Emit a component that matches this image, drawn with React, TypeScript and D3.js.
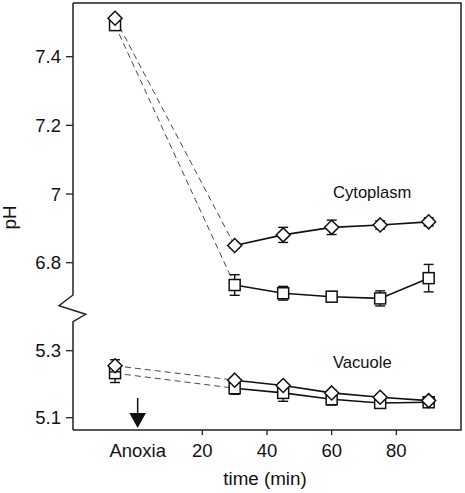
import React from "react";
import * as d3 from "d3";

// time (min); pre-anoxia control point plotted left of the anoxia arrow
const times = [-7, 30, 45, 60, 75, 90];
const cytoDiamond = [7.512, 6.85, 6.881, 6.903, 6.91, 6.919];
const cytoDiamondErr = [0.008, 0.008, 0.022, 0.021, 0.012, 0.012];
const cytoSquare = [7.492, 6.735, 6.711, 6.701, 6.696, 6.755];
const cytoSquareErr = [0.008, 0.03, 0.02, 0.015, 0.022, 0.04];
const vacDiamond = [5.255, 5.212, 5.196, 5.174, 5.161, 5.151];
const vacDiamondErr = [0.018, 0.008, 0.008, 0.008, 0.008, 0.008];
const vacSquare = [5.233, 5.188, 5.174, 5.155, 5.144, 5.146];
const vacSquareErr = [0.028, 0.018, 0.025, 0.017, 0.008, 0.008];
const xTicks = [20, 40, 60, 80];
const upperTicks = [6.8, 7, 7.2, 7.4];
const lowerTicks = [5.1, 5.3];
const anoxiaTime = 0;

const W = 465;
const H = 493;
const FONT = "'Liberation Sans', Arial, sans-serif";

export default function App() {
  const left = 73, right = 461, top = 3, bottom = 430;
  const x = d3.scaleLinear().domain([-20, 100]).range([left, right]);
  const yUp = d3.scaleLinear().domain([6.8, 7.4]).range([262.7, 56.7]);
  const yLow = d3.scaleLinear().domain([5.1, 5.3]).range([417.7, 350.7]);

  const series = [
    { vals: cytoSquare, err: cytoSquareErr, y: yUp, shape: "square" },
    { vals: vacSquare, err: vacSquareErr, y: yLow, shape: "square" },
    { vals: cytoDiamond, err: cytoDiamondErr, y: yUp, shape: "diamond" },
    { vals: vacDiamond, err: vacDiamondErr, y: yLow, shape: "diamond" },
  ];

  const lineGen = (ys: d3.ScaleLinear<number, number>) =>
    d3
      .line<[number, number]>()
      .x((d) => x(d[0]))
      .y((d) => ys(d[1]));

  const breakTop = 295;
  const leftAxisPath = `M${left},${top} L${left},${breakTop} L59,305.7 L85.7,314.3 L${left},321.7 L${left},${bottom}`;

  const ax = x(anoxiaTime);

  return (
    <div style={{ position: "fixed", left: 0, top: 0, width: W, height: H, background: "#fff" }}>
      <svg width={W} height={H} style={{ display: "block" }} fontFamily={FONT}>
        <rect width={W} height={H} fill="#fff" />
        {/* frame */}
        <path d={`M${left},${top} L${right},${top} L${right},${bottom} L${left},${bottom}`} fill="none" stroke="#222" strokeWidth={1.5} />
        <path d={leftAxisPath} fill="none" stroke="#222" strokeWidth={1.5} strokeLinejoin="miter" />

        {/* y ticks */}
        {upperTicks.map((t) => (
          <g key={"u" + t}>
            <line x1={left - 7} x2={left} y1={yUp(t)} y2={yUp(t)} stroke="#222" strokeWidth={1.3} />
            <text x={61} y={yUp(t)} dy="0.36em" textAnchor="end" fontSize={18.5} fill="#111">{String(t)}</text>
          </g>
        ))}
        {lowerTicks.map((t) => (
          <g key={"l" + t}>
            <line x1={left - 7} x2={left} y1={yLow(t)} y2={yLow(t)} stroke="#222" strokeWidth={1.3} />
            <text x={61} y={yLow(t)} dy="0.36em" textAnchor="end" fontSize={18.5} fill="#111">{String(t)}</text>
          </g>
        ))}

        {/* x ticks */}
        {xTicks.map((t) => (
          <g key={"x" + t}>
            <line x1={x(t)} x2={x(t)} y1={bottom} y2={bottom + 5} stroke="#222" strokeWidth={1.3} />
            <text x={x(t)} y={456.7} textAnchor="middle" fontSize={18.5} fill="#111">{String(t)}</text>
          </g>
        ))}
        <text x={ax} y={456.7} textAnchor="middle" fontSize={18.5} fill="#111">Anoxia</text>

        {/* arrow */}
        <line x1={ax} x2={ax} y1={398} y2={414} stroke="#111" strokeWidth={1.5} />
        <path d={`M${ax - 8.3},413 L${ax + 8.3},413 L${ax},428 Z`} fill="#111" />

        {/* axis titles */}
        <text x={(left + right) / 2 - 2} y={485} textAnchor="middle" fontSize={18.8} fill="#111">time (min)</text>
        <text transform="translate(16,217.5) rotate(-90)" textAnchor="middle" fontSize={18.8} fill="#111">pH</text>

        {/* annotations */}
        <text x={333} y={198} fontSize={16.6} fill="#111">Cytoplasm</text>
        <text x={333} y={367.5} fontSize={16.6} fill="#111">Vacuole</text>

        {/* dashed connectors */}
        {series.map((s, i) => (
          <path
            key={"d" + i}
            d={lineGen(s.y)([[times[0], s.vals[0]], [times[1], s.vals[1]]]) || ""}
            fill="none"
            stroke="#333"
            strokeWidth={0.9}
            strokeDasharray="6,4"
          />
        ))}
        {/* solid lines */}
        {series.map((s, i) => (
          <path
            key={"s" + i}
            d={lineGen(s.y)(times.slice(1).map((t, j) => [t, s.vals[j + 1]] as [number, number])) || ""}
            fill="none"
            stroke="#111"
            strokeWidth={1.6}
          />
        ))}
        {/* error bars and markers */}
        {series.map((s, i) => (
          <g key={"m" + i}>
            {times.map((t, j) => {
              const cx = x(t);
              const y1 = s.y(s.vals[j] + s.err[j]);
              const y2 = s.y(s.vals[j] - s.err[j]);
              return (
                <g key={j} stroke="#111" strokeWidth={1.4}>
                  <line x1={cx} x2={cx} y1={y1} y2={y2} />
                  <line x1={cx - 5} x2={cx + 5} y1={y1} y2={y1} />
                  <line x1={cx - 5} x2={cx + 5} y1={y2} y2={y2} />
                </g>
              );
            })}
            {times.map((t, j) => {
              const cx = x(t);
              const cy = s.y(s.vals[j]);
              return s.shape === "square" ? (
                <rect key={"p" + j} x={cx - 5.5} y={cy - 5.5} width={11} height={11} fill="#fff" stroke="#111" strokeWidth={1.5} />
              ) : (
                <path
                  key={"p" + j}
                  d={`M${cx},${cy - 7} L${cx + 7},${cy} L${cx},${cy + 7} L${cx - 7},${cy} Z`}
                  fill="#fff"
                  stroke="#111"
                  strokeWidth={1.5}
                />
              );
            })}
          </g>
        ))}
      </svg>
    </div>
  );
}
